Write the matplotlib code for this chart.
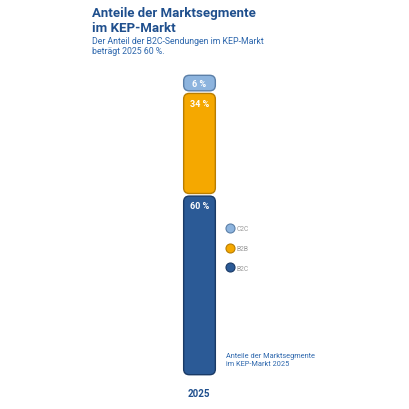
import matplotlib.pyplot as plt
from matplotlib.patches import FancyBboxPatch
from matplotlib.lines import Line2D

plt.rcParams['font.family'] = ['Roboto', 'DejaVu Sans']

segments = ['B2C', 'B2B', 'C2C']
shares = [60, 34, 6]
colors = ['#2b5a96', '#f5a800', '#8db4de']
edges = ['#1a3a66', '#b97d00', '#5b7fa8']
year = '2025'

W, H = 410, 410
fig = plt.figure(figsize=(W / 100, H / 100), dpi=100)

# bar axes placed in pixel terms: x 183..215, y 75..376
bx0, bx1, by0, by1 = 183, 216, 75, 377
ax = fig.add_axes([bx0 / W, 1 - by1 / H, (bx1 - bx0) / W, (by1 - by0) / H])
ax.set_xlim(0, 1)
ax.set_ylim(0, 100)
ax.axis('off')

px_x = (bx1 - bx0)
px_y = (by1 - by0) / 100
gap = 2.6 / px_y
bottom = 0
for seg, val, c, ec in zip(segments, shares, colors, edges):
    y0 = bottom + gap / 2
    h = val - gap
    patch = FancyBboxPatch((0.02, y0), 0.96, h,
                           boxstyle='round,pad=0,rounding_size=0.17',
                           mutation_aspect=px_x / (by1 - by0) * 100,
                           fc=c, ec=ec, lw=1.0, clip_on=False)
    ax.add_patch(patch)
    top = bottom + val
    ytxt = top - min(val / 2, 3.7)
    ax.text(0.5, ytxt, f'{val} %', ha='center', va='center', color='white',
            fontsize=6.5, fontweight='bold')
    bottom = top

fig.text(92 / W, 1 - 7 / H, 'Anteile der Marktsegmente\nim KEP-Markt', ha='left', va='top',
         fontsize=9.5, fontweight='bold', color='#1f4f8d', linespacing=1.2)
fig.text(92 / W, 1 - 37 / H, 'Der Anteil der B2C-Sendungen im KEP-Markt\nbeträgt 2025 60 %.',
         ha='left', va='top', fontsize=6.3, color='#2d67ad', linespacing=1.2)

handles = [Line2D([], [], marker='o', ls='none', ms=6.5, mfc=c, mec=ec, mew=0.8)
           for c, ec in zip(colors[::-1], edges[::-1])]
fig.legend(handles, segments[::-1], loc='upper left',
           bbox_to_anchor=(223 / W, 1 - 223 / H), frameon=False,
           fontsize=4.8, labelcolor='#999999', handletextpad=0.4,
           labelspacing=1.9, handlelength=1.2, borderpad=0)

fig.text(226 / W, 1 - 353 / H, 'Anteile der Marktsegmente\nim KEP-Markt 2025', ha='left',
         va='top', fontsize=5.3, color='#2d67ad', linespacing=1.25)
fig.text(199 / W, 1 - 394 / H, year, ha='center', va='center', fontsize=7,
         fontweight='bold', color='#1f4f8d')

fig.savefig('out.png', dpi=100)
